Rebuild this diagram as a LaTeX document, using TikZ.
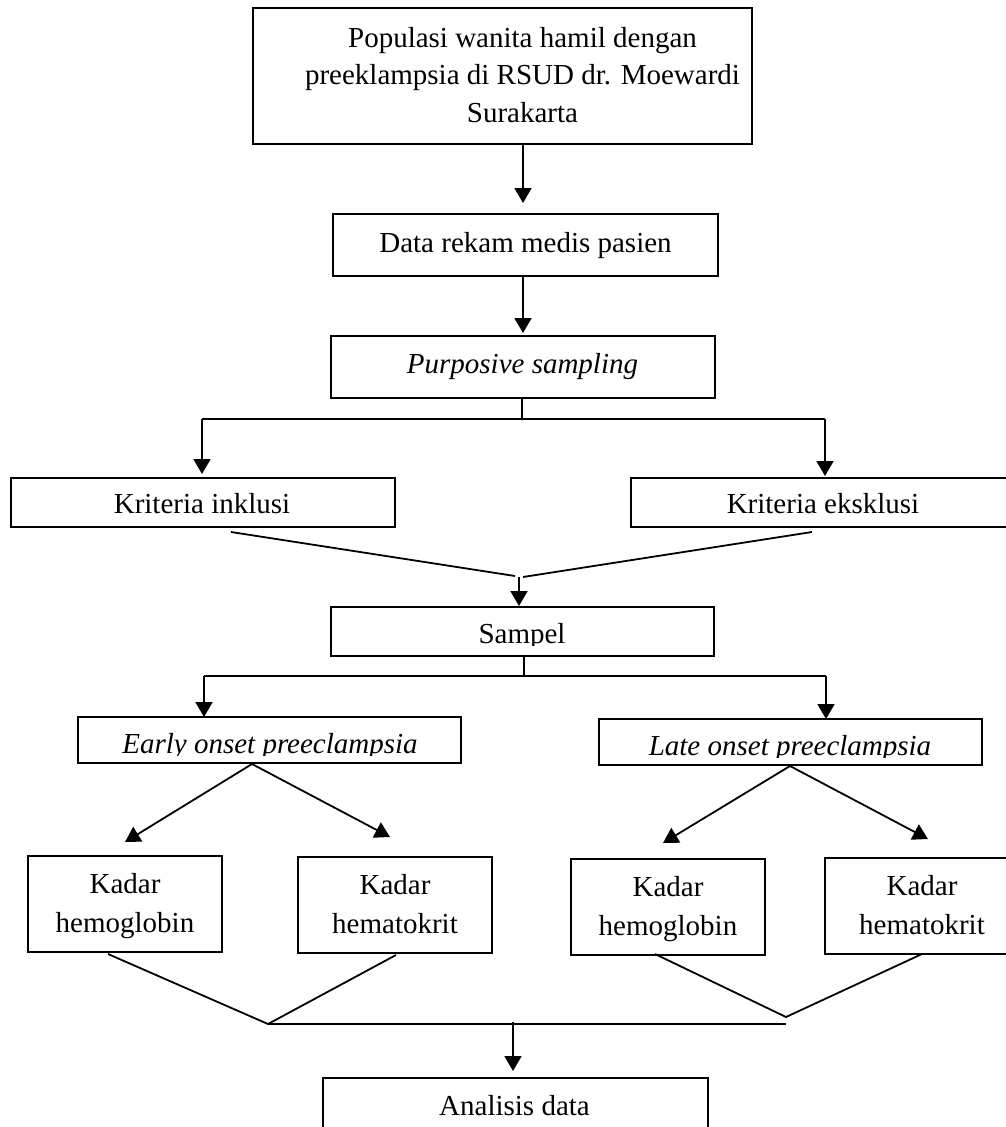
\documentclass[tikz,border=0pt]{standalone}
\usepackage{fontspec}
\setmainfont{Liberation Serif}
\usetikzlibrary{arrows.meta}
\begin{document}
\begin{tikzpicture}[x=1pt,y=-1pt,
  box/.style={draw, line width=1.5pt, inner sep=0pt, outer sep=0pt, anchor=north west},
  txt/.style={inner sep=0pt, anchor=base, font=\fontsize{29}{37.5}\selectfont},
  itxt/.style={inner sep=0pt, anchor=base, font=\fontsize{29}{37.5}\selectfont\itshape},
  ktxt/.style={inner sep=0pt, anchor=center, align=center, font=\fontsize{29}{39}\selectfont},
  ln/.style={line width=1.8pt},
  arr/.style={ln, -{Triangle[width=17pt,length=15pt]}}]
\useasboundingbox (0,0) rectangle (1006,1127);

% boxes
\node[box, minimum width=499pt, minimum height=136pt] (top) at (253,8) {};
\node[box, minimum width=385pt, minimum height=62pt] (data) at (333,214) {};
\node[box, minimum width=384pt, minimum height=62pt] (purp) at (331,336) {};
\node[box, minimum width=384pt, minimum height=49pt] (inkl) at (11,478) {};
\node[box, minimum width=384pt, minimum height=49pt] (eksk) at (631,478) {};
\node[box, minimum width=383pt, minimum height=49pt] (sampel) at (331,607) {};
\node[box, minimum width=383pt, minimum height=46pt] (early) at (78,717) {};
\node[box, minimum width=383pt, minimum height=46pt] (late) at (599,719) {};
\node[box, minimum width=194pt, minimum height=96pt] (hb1) at (28,856) {};
\node[box, minimum width=194pt, minimum height=96pt] (ht1) at (298,857) {};
\node[box, minimum width=194pt, minimum height=96pt] (hb2) at (571,859) {};
\node[box, minimum width=194pt, minimum height=96pt] (ht2) at (825,858) {};
\node[box, minimum width=385pt, minimum height=70pt] (anal) at (323,1078) {};

% texts
\node[txt, anchor=center, align=center] (toptext) at (522.5,74.6)
  {Populasi wanita hamil dengan\\preeklampsia di RSUD dr. Moewardi\\Surakarta};
\node[txt] (datatext) at (525.5,252) {Data rekam medis pasien};
\node[itxt] (purptext) at (522.5,373) {Purposive sampling};
\node[txt] (inkltext) at (202,513) {Kriteria inklusi};
\node[txt] (eksktext) at (823,513) {Kriteria eksklusi};
\begin{scope}
  \clip (331,607) rectangle (714,645);
  \node[txt] (sampeltext) at (522,643) {Sampel};
\end{scope}
\begin{scope}
  \clip (78,717) rectangle (461,755);
  \node[itxt] (earlytext) at (270,753) {Early onset preeclampsia};
\end{scope}
\begin{scope}
  \clip (599,719) rectangle (982,757);
  \node[itxt] (latetext) at (790,755) {Late onset preeclampsia};
\end{scope}
\node[ktxt] (hb1text) at (125,905.8) {Kadar\\hemoglobin};
\node[ktxt] (ht1text) at (395,903.6) {Kadar\\hematokrit};
\node[ktxt] (hb2text) at (668,908.8) {Kadar\\hemoglobin};
\node[ktxt] (ht2text) at (922,904.6) {Kadar\\hematokrit};
\node[txt] (analtext) at (514.5,1115) {Analisis data};

% connectors
\coordinate (c1) at (523,203);
\draw[arr] (top.south -| c1) -- (c1);
\coordinate (c2) at (523,333);
\draw[arr] (data.south -| c2) -- (c2);

\coordinate (s1) at (522,419);
\coordinate (s1l) at (202,419);
\coordinate (s1r) at (825,419);
\draw[ln] (purp.south -| s1) -- (s1);
\draw[ln] (s1l) -- (s1r);
\draw[arr, shorten >=4pt] (s1l) -- (s1l |- inkl.north);
\draw[arr, shorten >=2pt] (s1r) -- (s1r |- eksk.north);

\coordinate (v1) at (231,532);
\coordinate (v2) at (515,576);
\coordinate (v3) at (812,532);
\coordinate (v4) at (523,577);
\coordinate (v5) at (519,577);
\draw[ln] (v1) -- (v2);
\draw[ln] (v3) -- (v4);
\draw[arr, shorten >=1pt] (v5) -- (v5 |- sampel.north);

\coordinate (s2) at (524,676);
\coordinate (s2l) at (204,676);
\coordinate (s2r) at (826,676);
\draw[ln] (sampel.south -| s2) -- (s2);
\draw[ln] (s2l) -- (s2r);
\draw[arr] (s2l) -- (s2l |- early.north);
\draw[arr] (s2r) -- (s2r |- late.north);

\coordinate (e0) at (252,764);
\coordinate (e1) at (125,842);
\coordinate (e2) at (390,837);
\draw[arr] (e0) -- (e1);
\draw[arr] (e0) -- (e2);
\coordinate (l0) at (790,766);
\coordinate (l1) at (663,843);
\coordinate (l2) at (928,839);
\draw[arr] (l0) -- (l1);
\draw[arr] (l0) -- (l2);

\coordinate (b1) at (108,954);
\coordinate (b2) at (396,955);
\coordinate (j1) at (268,1024);
\coordinate (b3) at (655,954);
\coordinate (b4) at (922,954);
\coordinate (j2) at (786,1017);
\coordinate (j3) at (786,1024);
\coordinate (j4) at (513,1022);
\draw[ln] (b1) -- (j1) -- (b2);
\draw[ln] (b3) -- (j2) -- (b4);
\draw[ln] (j1) -- (j3);
\draw[arr, shorten >=7pt] (j4) -- (j4 |- anal.north);
\end{tikzpicture}
\end{document}
